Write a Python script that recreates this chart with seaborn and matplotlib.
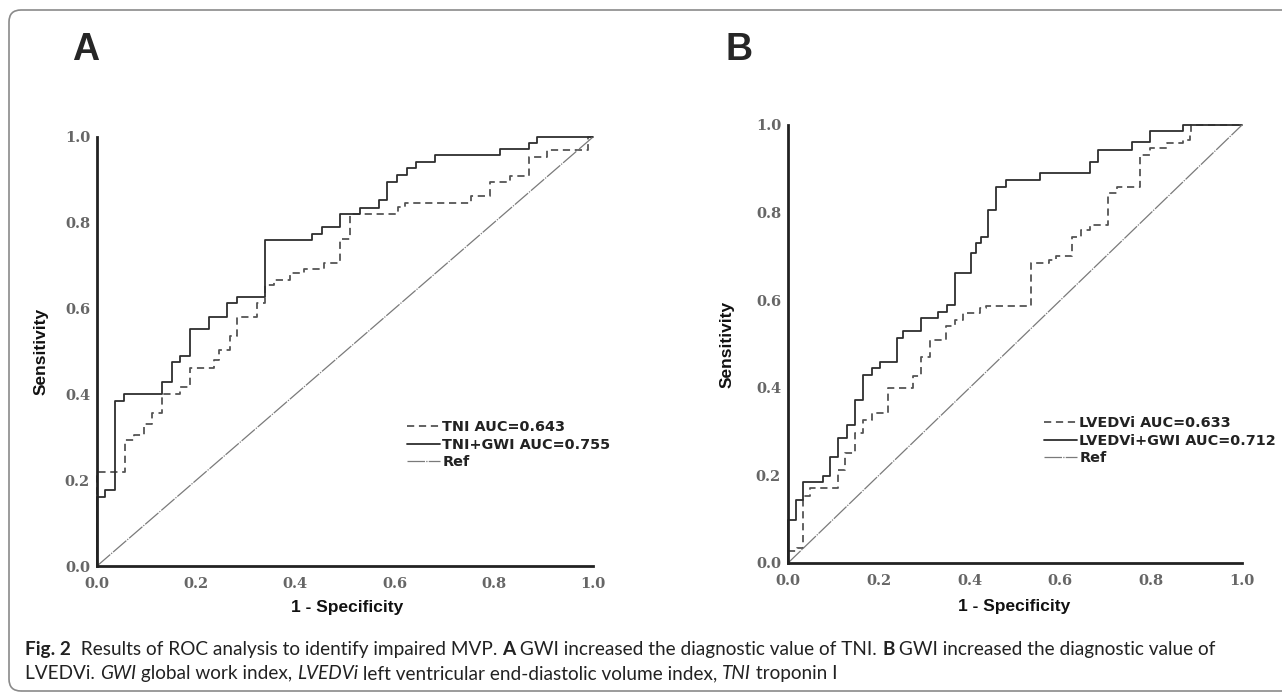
import numpy as np
import pandas as pd
import matplotlib
matplotlib.use("Agg")
import matplotlib.pyplot as plt
import seaborn as sns
from matplotlib.patches import FancyBboxPatch
from matplotlib.transforms import IdentityTransform

# ---------------- data ----------------
# Panel A: TNI (dashed)
a_tni_fpr = [0.0, 0.0, 0.057, 0.074, 0.095, 0.111, 0.131, 0.168, 0.188, 0.235, 0.245, 0.269,
             0.282, 0.323, 0.339, 0.356, 0.39, 0.417, 0.457, 0.49, 0.511, 0.607, 0.62, 0.755,
             0.792, 0.833, 0.87, 0.907, 0.99, 1.0]
a_tni_tpr = [0.0, 0.22, 0.294, 0.305, 0.33, 0.356, 0.40, 0.418, 0.461, 0.48, 0.503, 0.535,
             0.581, 0.612, 0.655, 0.666, 0.682, 0.693, 0.707, 0.762, 0.82, 0.837, 0.846, 0.862,
             0.896, 0.908, 0.954, 0.970, 1.0, 1.0]
# Panel A: TNI+GWI (solid)
a_comb_fpr = [0.0, 0.0, 0.017, 0.037, 0.054, 0.131, 0.151, 0.168, 0.188, 0.225, 0.262, 0.282,
              0.339, 0.433, 0.454, 0.49, 0.53, 0.568, 0.584, 0.604, 0.624, 0.643, 0.681, 0.812,
              0.870, 0.888, 1.0]
a_comb_tpr = [0.0, 0.162, 0.177, 0.385, 0.401, 0.43, 0.476, 0.49, 0.552, 0.581, 0.612, 0.628,
              0.761, 0.775, 0.791, 0.82, 0.835, 0.853, 0.896, 0.911, 0.927, 0.941, 0.958, 0.971,
              0.985, 1.0, 1.0]
# Panel B: LVEDVi (dashed)
b_lv_fpr = [0.0, 0.0, 0.02, 0.033, 0.048, 0.11, 0.125, 0.147, 0.165, 0.184, 0.22, 0.276, 0.294,
            0.312, 0.349, 0.367, 0.386, 0.422, 0.437, 0.536, 0.575, 0.59, 0.625, 0.645, 0.665,
            0.705, 0.724, 0.775, 0.797, 0.834, 0.871, 0.885, 0.888, 1.0]
b_lv_tpr = [0.0, 0.027, 0.035, 0.152, 0.171, 0.213, 0.251, 0.297, 0.327, 0.342, 0.399, 0.426,
            0.471, 0.51, 0.541, 0.555, 0.57, 0.582, 0.587, 0.684, 0.692, 0.70, 0.745, 0.76,
            0.772, 0.844, 0.859, 0.932, 0.947, 0.958, 0.966, 0.981, 1.0, 1.0]
# Panel B: LVEDVi+GWI (solid)
b_comb_fpr = [0.0, 0.0, 0.017, 0.033, 0.077, 0.092, 0.11, 0.129, 0.147, 0.165, 0.184, 0.202,
              0.239, 0.253, 0.294, 0.331, 0.35, 0.367, 0.404, 0.415, 0.426, 0.441, 0.459, 0.481,
              0.555, 0.665, 0.683, 0.757, 0.797, 0.871, 1.0]
b_comb_tpr = [0.0, 0.099, 0.144, 0.186, 0.198, 0.243, 0.285, 0.316, 0.373, 0.43, 0.445, 0.46,
              0.513, 0.529, 0.559, 0.574, 0.59, 0.662, 0.707, 0.73, 0.745, 0.806, 0.859, 0.875,
              0.89, 0.916, 0.944, 0.962, 0.987, 1.0, 1.0]
ref_xy = [0.0, 1.0]

ticks = [0.0, 0.2, 0.4, 0.6, 0.8, 1.0]
tick_labels = ["0.0", "0.2", "0.4", "0.6", "0.8", "1.0"]

labels_a = ["TNI AUC=0.643", "TNI+GWI AUC=0.755", "Ref"]
labels_b = ["LVEDVi AUC=0.633", "LVEDVi+GWI AUC=0.712", "Ref"]

# ---------------- style ----------------
sns.set_style("white")
plt.rcParams["font.family"] = ["DejaVu Sans"]

W, H = 1282, 693
fig = plt.figure(figsize=(W / 100, H / 100), dpi=100)
fig.patch.set_facecolor("white")


def px_axes(l, r, t, b):
    return fig.add_axes([l / W, 1 - b / H, (r - l) / W, (b - t) / H])


axA = px_axes(97, 593, 137, 566)
axB = px_axes(788, 1242, 125, 563)

DASH_COL = "#555555"
SOLID_COL = "#2e2e2e"
REF_COL = "#7a7a7a"


def draw_panel(ax, f1, t1, f2, t2, labels):
    d1 = pd.DataFrame({"fpr": f1, "tpr": t1})
    d2 = pd.DataFrame({"fpr": f2, "tpr": t2})
    dr = pd.DataFrame({"fpr": ref_xy, "tpr": ref_xy})
    sns.lineplot(data=d1, x="fpr", y="tpr", ax=ax, estimator=None, sort=False,
                 drawstyle="steps-post", color=DASH_COL, linewidth=1.3,
                 linestyle=(0, (4, 2.6)), label=labels[0], clip_on=False)
    sns.lineplot(data=d2, x="fpr", y="tpr", ax=ax, estimator=None, sort=False,
                 drawstyle="steps-post", color=SOLID_COL, linewidth=1.3,
                 label=labels[1], clip_on=False)
    sns.lineplot(data=dr, x="fpr", y="tpr", ax=ax, estimator=None, sort=False,
                 color=REF_COL, linewidth=0.9, linestyle=(0, (14, 1.0, 1.0, 1.0)),
                 label=labels[2], clip_on=False)
    ax.set_xlim(0, 1)
    ax.set_ylim(0, 1)
    ax.set_xticks(ticks)
    ax.set_yticks(ticks)
    ax.set_xticklabels(tick_labels, family="DejaVu Serif", fontweight="bold",
                       fontsize=10.5, color="#666666")
    ax.set_yticklabels(tick_labels, family="DejaVu Serif", fontweight="bold",
                       fontsize=10.5, color="#666666")
    ax.tick_params(axis="both", length=0)
    ax.tick_params(axis="x", pad=8)
    ax.tick_params(axis="y", pad=5)
    for s in ["top", "right"]:
        ax.spines[s].set_visible(False)
    for s in ["left", "bottom"]:
        ax.spines[s].set_linewidth(2.0)
        ax.spines[s].set_color("#222222")
    ax.set_facecolor("none")
    ax.grid(False)


draw_panel(axA, a_tni_fpr, a_tni_tpr, a_comb_fpr, a_comb_tpr, labels_a)
draw_panel(axB, b_lv_fpr, b_lv_tpr, b_comb_fpr, b_comb_tpr, labels_b)

lab_font = dict(family=["Liberation Sans Narrow", "Liberation Sans"], fontweight="bold",
                fontsize=12.5, color="#111111")
for ax, (xl, yl), (yx, yy) in [
    (axA, (0.504, -0.096), (-0.113, 0.499)),
    (axB, (0.498, -0.100), (-0.134, 0.498)),
]:
    ax.set_xlabel("1 - Specificity", **lab_font)
    ax.set_ylabel("Sensitivity", **lab_font)
    ax.xaxis.set_label_coords(xl, yl)
    ax.yaxis.set_label_coords(yx, yy)
    ax.xaxis.label.set_va("center")
    ax.yaxis.label.set_va("center")

leg_kw = dict(frameon=False, loc="upper left", borderpad=0, borderaxespad=0,
              handlelength=2.3, handletextpad=0.15, labelspacing=0.25,
              prop=dict(family="DejaVu Sans", weight="bold", size=10.4))
legA = axA.legend(bbox_to_anchor=((407 - 97) / 496, (566 - 420) / 429), **leg_kw)
legB = axB.legend(bbox_to_anchor=((1044 - 788) / 454, (563 - 416) / 438), **leg_kw)
for lg in (legA, legB):
    for t in lg.get_texts():
        t.set_color("#222222")

# panel letters
fig.text(72 / W, 1 - 60 / H, "A", fontsize=27, fontweight="bold",
         family="Liberation Sans", va="baseline", ha="left")
fig.text(725 / W, 1 - 60 / H, "B", fontsize=27, fontweight="bold",
         family="Liberation Sans", va="baseline", ha="left")

# frame
frame = FancyBboxPatch((9, H - 691), 1320, 691 - 10,
                       boxstyle="round,pad=0,rounding_size=12",
                       transform=IdentityTransform(), fill=False,
                       edgecolor="#8a8a8a", linewidth=1.2, clip_on=False)
fig.add_artist(frame)

# caption with mixed styles
cap_family = ["Lato", "DejaVu Sans"]
line1 = [("Fig. 2", "bold", "normal"),
         ("  Results of ROC analysis to identify impaired MVP. ", "normal", "normal"),
         ("A", "bold", "normal"),
         (" GWI increased the diagnostic value of TNI. ", "normal", "normal"),
         ("B", "bold", "normal"),
         (" GWI increased the diagnostic value of", "normal", "normal")]
line2 = [("LVEDVi. ", "normal", "normal"),
         ("GWI", "normal", "italic"),
         (" global work index, ", "normal", "normal"),
         ("LVEDVi", "normal", "italic"),
         (" left ventricular end-diastolic volume index, ", "normal", "normal"),
         ("TNI", "normal", "italic"),
         (" troponin I", "normal", "normal")]

renderer = fig.canvas.get_renderer()


def rich_line(x0, y_base, segs, size, draw=True):
    x = x0
    arts = []
    for txt, wt, st in segs:
        t = fig.text(x / W, 1 - y_base / H, txt, fontsize=size, fontweight=wt,
                     fontstyle=st, family=cap_family, va="baseline", ha="left",
                     color="#222222")
        bb = t.get_window_extent(renderer)
        x += bb.width
        arts.append(t)
    if not draw:
        for a in arts:
            a.remove()
    return x - x0


w0 = rich_line(25, 655, line1, 13, draw=False)
cap_size = 13 * (1188 / w0)
rich_line(25, 655, line1, cap_size)
rich_line(25, 679, line2, cap_size)

fig.savefig("out.png", dpi=100, facecolor="white")
